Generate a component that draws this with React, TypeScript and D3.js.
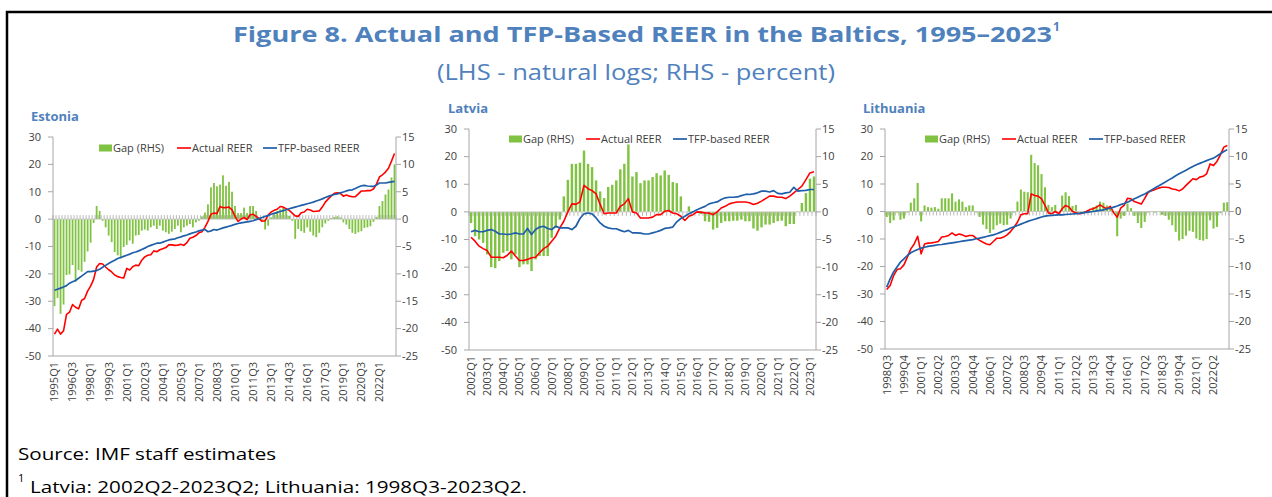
import React from 'react';
import * as d3 from 'd3';

const FONT = "'Open Sans', 'Noto Sans', sans-serif";
const TITLE_BLUE = '#4f81bd';
const BAR_GREEN = '#80c241';
const LINE_RED = '#ff0000';
const LINE_BLUE = '#1f5ea8';
const AXIS_GREY = '#a6a6a6';
const TEXT_DARK = '#404040';

// Estonia, 1995Q1-2023Q2
const estoniaGap = [
  -15.9, -14.4, -17.3, -15.6, -10.2, -10.1, -8.4, -11.4, -9.3, -9.6,
  -7.8, -5.9, -4.3, -0.7, 2.4, 1.5, -0.3, -1.5, -3.0, -4.2,
  -6.0, -6.6, -7.2, -5.1, -4.7, -3.9, -4.5, -3.0, -2.9, -2.1,
  -1.9, -2.1, -1.5, -1.2, -1.8, -1.2, -2.1, -2.4, -2.7, -2.3,
  -1.8, -1.2, -2.4, -1.5, -1.2, -0.9, -1.5, -0.6, -0.3, 0.5,
  1.2, 2.7, 5.8, 6.6, 6.0, 6.3, 8.0, 6.1, 6.8, 5.0,
  2.4, 1.1, 1.1, 2.1, 1.1, 2.4, 2.4, 1.5, 0.3, -0.3,
  -1.9, -1.2, 0.3, 0.9, 1.5, 1.8, 2.1, 1.5, 0.6, -0.3,
  -3.6, -1.8, -2.2, -2.5, -1.5, -2.3, -3.0, -3.3, -2.5, -1.5,
  -0.8, -0.3, 0.2, 0.4, 0.5, 0.3, -0.6, -1.0, -1.8, -2.5,
  -2.7, -2.4, -2.2, -1.6, -1.5, -1.3, -0.5, 0.4, 2.4, 3.3,
  4.5, 5.4, 7.6, 10.0,
];
const estoniaActual = [
  -42, -40.2, -42, -40.8, -34.8, -34, -31.2, -32.2, -32.8, -29.7,
  -29, -26.3, -24.5, -22, -17.5, -16.2, -16.4, -17.5, -18.5, -19.3,
  -20.4, -21, -21.3, -21.5, -18, -18.6, -17.4, -16.8, -17, -15,
  -13.8, -13.2, -13, -11.6, -11.9, -11.2, -10.8, -10.4, -9.4, -9.4,
  -9.6, -9.5, -9.2, -9.6, -8.6, -7, -6.6, -6, -5, -4.6,
  -3, -0.8, 1.8, 2.2, 2, 4.6, 4.2, 4.2, 4.4, 3.4,
  1, -0.8, 0, 0.6, -0.2, 1.6, 1.8, 1, 0.2, -0.8,
  -0.6, 1.5, 2.6, 3.2, 3.6, 4.6, 4.4, 3.8, 3.2, 2.2,
  1.2, 1, 2.3, 2.6, 3.6, 3.3, 2.8, 2.9, 3, 4.4,
  6.2, 7.4, 8.5, 9.4, 9.6, 9.4, 8.4, 8.8, 8.4, 8.2,
  8.2, 9.2, 10.3, 10.3, 10.4, 10.4, 11, 12.8, 15.4, 16.2,
  17.2, 18.6, 21.2, 24,
];
const estoniaTfp = [
  -26, -25.6, -25.2, -24.8, -24.3, -23.4, -22.9, -22.4, -21.6, -20.8,
  -20, -19.2, -19.2, -19, -18.8, -18.3, -17.6, -16.9, -16.2, -15.6,
  -15, -14.4, -14, -13.6, -13.2, -12.8, -12.3, -12, -11.6, -11.1,
  -10.6, -10, -9.6, -9.2, -8.8, -8.8, -8.4, -8, -7.6, -7.4,
  -7.2, -6.8, -6.5, -6.1, -5.8, -5.4, -5, -4.7, -4.3, -4,
  -3.8, -4.6, -4.3, -3.8, -4, -3.6, -3.2, -2.9, -2.6, -2.3,
  -1.9, -1.6, -1.4, -1.2, -1, -0.8, -0.6, -0.2, 0.2, 0.6,
  1, 1.3, 1.8, 2.1, 2.4, 2.8, 3.1, 3.4, 3.8, 4.1,
  4.4, 4.7, 5, 5.3, 5.6, 5.9, 6.2, 6.6, 7, 7.4,
  7.9, 8.3, 8.7, 9, 9.2, 9.6, 9.9, 10.3, 10.6, 10.7,
  11.2, 11.7, 12.2, 12.3, 12.1, 12, 12, 12.4, 13.2, 13.2,
  13.2, 13.4, 13.6, 13.8,
];
const estoniaTicks = [
  '1995Q1', '1996Q3', '1998Q1', '1999Q3', '2001Q1', '2002Q3', '2004Q1', '2005Q3', '2007Q1', '2008Q3',
  '2010Q1', '2011Q3', '2013Q1', '2014Q3', '2016Q1', '2017Q3', '2019Q1', '2020Q3', '2022Q1',
];

// Latvia, 2002Q1-2023Q2
const latviaGap = [
  -2, -4.4, -5, -5.6, -7.7, -10, -10.2, -8.9, -7.4, -7.1,
  -8.6, -7.7, -10, -9.5, -9.5, -10.7, -8.6, -8, -8, -8,
  -4.7, -2.9, -1.4, 2.8, 5.8, 8.7, 8.7, 8.9, 11.1, 8.7,
  8.1, 5.7, 3.7, 2.5, 4.5, 4.9, 5.7, 7.7, 8.7, 12.2,
  6.4, 7.2, 5.2, 5.7, 5.7, 6.3, 7, 6.6, 7.5, 6.7,
  5.4, 5.2, 2.8, 0, 1, 0, 0, -0.4, -1.7, -1.8,
  -3.2, -2.9, -2, -1.7, -1.7, -1.6, -1.6, -1.4, -1.7, -1.7,
  -3, -3.4, -2.8, -2.3, -2.3, -2, -1.7, -1.6, -2.6, -2.2,
  -2.2, 0.1, 1.6, 3.4, 6, 6.4,
];
const latviaActual = [
  -9.2, -10.6, -12.4, -13.3, -14, -16.4, -16.4, -16.4, -16.6, -15.7,
  -14.2, -16, -17.6, -17.6, -17.2, -16.6, -16.4, -14.8, -13.3, -12.4,
  -10.6, -8.8, -5.8, -3.4, 0, 2.9, 2.7, 3.6, 9.6, 8.4,
  7.7, 6.5, 2.7, -0.7, -0.4, -0.4, -0.4, 2, 2.9, 4.8,
  0, -0.4, -2.2, -2.2, -2.2, -1.9, -1, -1, 0.2, 0.5,
  -0.4, -0.7, -1.6, -3.1, -1.6, -1, 0, -0.1, -0.4, -0.4,
  -1, 0, 1.4, 2, 2.9, 3.3, 3.6, 3.6, 3.6, 3.3,
  2.7, 3.1, 3.9, 4.8, 5.7, 5.7, 5.3, 5.3, 4.8, 5.7,
  6.9, 8.1, 9.3, 11.7, 14.1, 14.5,
];
const latviaTfp = [
  -7.2, -6.7, -7.2, -7.2, -6.7, -6.4, -7, -8, -8, -8.2,
  -8, -7.6, -8, -8, -6, -8.2, -6.4, -5.5, -5.2, -6,
  -6.4, -5.2, -5.8, -5.8, -5.8, -6.4, -5.2, -2.4, -0.7, -0.4,
  -0.7, -2.2, -4, -5.2, -5.8, -6.1, -6.1, -6.7, -7.2, -6.7,
  -7.6, -7.6, -7.7, -8, -8, -7.6, -7.2, -6.7, -6, -5.8,
  -5.5, -3.6, -2.4, -1.6, -0.7, 0, 0.8, 1.4, 2, 2.9,
  3.3, 3.6, 4.5, 5.1, 5.3, 5.3, 5.4, 5.9, 6.3, 6.3,
  6.5, 6.9, 7.5, 7.5, 7.2, 7.7, 6.7, 6.5, 6.9, 7.1,
  8.9, 7.5, 7.7, 7.8, 8.1, 8.1,
];
const latviaTicks = [
  '2002Q1', '2003Q1', '2004Q1', '2005Q1', '2006Q1', '2007Q1', '2008Q1', '2009Q1', '2010Q1', '2011Q1', '2012Q1',
  '2013Q1', '2014Q1', '2015Q1', '2016Q1', '2017Q1', '2018Q1', '2019Q1', '2020Q1', '2021Q1', '2022Q1', '2023Q1',
];

// Lithuania, 1998Q3-2023Q2
const lithuaniaGap = [
  -1, -2.1, -1.6, -0.2, -1.5, -1.3, -0.2, 1.6, 2.4, 5.2,
  -1.8, 1.1, 0.8, 0.7, 0.8, 0.5, 2.4, 2.4, 2.4, 3.3,
  1.8, 2.2, 1.8, 0.8, 1.1, 1.1, -0.2, -1, -2.4, -3.2,
  -3.9, -3.3, -2.5, -2.2, -2.5, -2.4, -1.3, -0.2, 1.8, 4,
  3.6, 3.5, 10.3, 8.8, 8.4, 6.8, 4.4, 1.2, 0.8, 1.2,
  0, 2.9, 3.5, 2.8, 1, 1.2, -0.2, -0.2, 0.1, 0.2,
  0.8, 1.1, 1.8, 1.6, 1.1, 0.5, -0.2, -4.5, -1.3, -0.8,
  1.4, 0.6, -0.8, -2.1, -3, -1.9, -0.2, 0.1, -0.2, -0.1,
  -0.6, -0.8, -1.5, -2.5, -3.7, -5.3, -5, -4.4, -3.5, -3.7,
  -4.9, -5.2, -5.3, -5, -1.6, -3.1, -2.8, -0.3, 1.6, 1.7,
];
const lithuaniaActual = [
  -28.4, -26.9, -23.3, -21.1, -20.8, -19.4, -16.6, -13.6, -11.8, -9,
  -15.4, -11.8, -11.5, -11.4, -11.2, -10.9, -9.3, -9.1, -8.7, -7.8,
  -8.7, -8.2, -8.5, -9.1, -8.7, -8.7, -9.7, -10.5, -11.2, -11.8,
  -12.1, -10.9, -9.7, -9.7, -9.3, -8.5, -7.3, -5.7, -3.9, -1.2,
  -0.8, -0.8, 6.4, 5.8, 5.6, 4.6, 2.2, -0.5, -0.8, 0,
  -0.8, 1, 2.2, 1.6, 0, -0.5, -0.8, -0.5, 0, 0.7,
  1, 1.6, 2.4, 1.6, 1, 1.9, -0.5, -2.1, 1.2, 2.2,
  4.8, 4.6, 3.6, 3.2, 2.7, 4.8, 7, 7.5, 8, 8.5,
  8.8, 8.8, 8.7, 8.2, 8, 7.5, 8.2, 9.5, 10.7, 11.9,
  11.6, 12.5, 12.8, 13.7, 17.3, 16.7, 18.2, 20.6, 23.4, 24,
];
const lithuaniaTfp = [
  -27.5, -24.5, -22, -20.2, -18.4, -17.2, -16, -15, -14.4, -13.8,
  -13.3, -13, -12.7, -12.5, -12.3, -12.1, -12, -11.8, -11.6, -11.4,
  -11.2, -11, -10.8, -10.6, -10.4, -10.2, -9.9, -9.7, -9.4, -9.1,
  -8.8, -8.5, -8.1, -7.6, -7.1, -6.6, -6, -5.6, -5.1, -4.6,
  -4.1, -3.6, -3.2, -2.8, -2.4, -2, -1.7, -1.5, -1.4, -1.3,
  -1.25, -1.2, -1.1, -1, -0.9, -0.8, -0.7, -0.5, -0.3, -0.15,
  0, 0.2, 0.4, 0.6, 0.9, 1.2, 1.6, 2, 2.5, 2.9,
  3.4, 4, 4.6, 5.2, 5.8, 6.4, 7.1, 7.8, 8.6, 9.3,
  10, 10.7, 11.5, 12.2, 13, 13.7, 14.4, 15, 15.7, 16.4,
  17, 17.5, 18, 18.5, 19, 19.4, 20.2, 21, 21.8, 22.5,
];
const lithuaniaTicks = [
  '1998Q3', '1999Q4', '2001Q1', '2002Q2', '2003Q3', '2004Q4', '2006Q1', '2007Q2', '2008Q3', '2009Q4',
  '2011Q1', '2012Q2', '2013Q3', '2014Q4', '2016Q1', '2017Q2', '2018Q3', '2019Q4', '2021Q1', '2022Q2',
];

const lhsTicks = [-50, -40, -30, -20, -10, 0, 10, 20, 30];
const rhsTicks = [-25, -20, -15, -10, -5, 0, 5, 10, 15];

// quarter labels for a run of quarterly observations
function quarterRange(startYear: number, startQ: number, n: number): string[] {
  const out: string[] = [];
  for (let i = 0; i < n; i++) {
    const k = startQ - 1 + i;
    out.push(`${startYear + Math.floor(k / 4)}Q${(k % 4) + 1}`);
  }
  return out;
}

type PanelProps = {
  name: string;
  titleX: number;
  titleY: number;
  left: number;
  right: number;
  top: number;
  bottom: number;
  cats: string[];
  gap: number[];
  actual: number[];
  tfp: number[];
  ticks: string[];
  legendY: number;
  legendX: [number, number, number];
  zeroTickUp: boolean;
};

function Panel(p: PanelProps) {
  const x = d3.scaleBand<string>().domain(p.cats).range([p.left, p.right]).paddingInner(0.4).paddingOuter(0.2);
  const bw = x.bandwidth();
  const cx = (c: string) => (x(c) as number) + bw / 2;
  const yL = d3.scaleLinear().domain([-50, 30]).range([p.bottom, p.top]);
  const yR = d3.scaleLinear().domain([-25, 15]).range([p.bottom, p.top]);
  const line = d3.line<number>().x((_, i) => cx(p.cats[i])).y((v) => yL(v));
  const z = yR(0);
  const step = x.step();
  const [gx, rx, tx] = p.legendX;
  const ly = p.legendY;

  return (
    <g>
      <text x={p.titleX} y={p.titleY} fill={TITLE_BLUE} fontWeight="bold" fontSize={13}>{p.name}</text>

      {/* bars on RHS */}
      {p.gap.map((v, i) => (
        <rect key={'b' + i} x={x(p.cats[i])} width={bw} y={Math.min(z, yR(v))} height={Math.abs(yR(v) - z)} fill={BAR_GREEN} />
      ))}

      {/* category axis crossing at zero */}
      <line x1={p.left} x2={p.right} y1={z} y2={z} stroke="#c8c8c8" strokeWidth={0.8} />
      {d3.range(p.cats.length + 1).map((i) => (
        <line key={'zt' + i} x1={p.left + i * step} x2={p.left + i * step} y1={z} y2={p.zeroTickUp ? z - 4 : z + 4} stroke={AXIS_GREY} strokeWidth={0.8} />
      ))}

      <path d={line(p.actual) ?? ''} fill="none" stroke={LINE_RED} strokeWidth={1.6} strokeLinejoin="round" />
      <path d={line(p.tfp) ?? ''} fill="none" stroke={LINE_BLUE} strokeWidth={1.7} strokeLinejoin="round" />

      {/* axes */}
      <line x1={p.left} x2={p.left} y1={p.top} y2={p.bottom} stroke={AXIS_GREY} />
      <line x1={p.right} x2={p.right} y1={p.top} y2={p.bottom} stroke={AXIS_GREY} />
      <line x1={p.left} x2={p.right} y1={p.bottom} y2={p.bottom} stroke={AXIS_GREY} />
      {lhsTicks.map((t) => (
        <g key={'l' + t}>
          <line x1={p.left - 5} x2={p.left} y1={yL(t)} y2={yL(t)} stroke={AXIS_GREY} />
          <text x={p.left - 12} y={yL(t)} dy="0.35em" textAnchor="end" fontSize={11} fill={TEXT_DARK}>{t}</text>
        </g>
      ))}
      {rhsTicks.map((t) => (
        <g key={'r' + t}>
          <line x1={p.right} x2={p.right + 5} y1={yR(t)} y2={yR(t)} stroke={AXIS_GREY} />
          <text x={p.right + 6} y={yR(t)} dy="0.35em" textAnchor="start" fontSize={11} fill={TEXT_DARK}>{t}</text>
        </g>
      ))}
      {p.ticks.map((t) => (
        <text key={'x' + t} transform={`translate(${cx(t)},${p.bottom + 6}) rotate(-90)`} dy="0.35em" textAnchor="end" fontSize={11} fill={TEXT_DARK}>{t}</text>
      ))}

      {/* legend */}
      <rect x={gx} y={ly - 3.5} width={13} height={7} fill={BAR_GREEN} />
      <text x={gx + 14} y={ly} dy="0.35em" fontSize={11} fill={TEXT_DARK}>Gap (RHS)</text>
      <line x1={rx} x2={rx + 14} y1={ly} y2={ly} stroke={LINE_RED} strokeWidth={1.6} />
      <text x={rx + 15} y={ly} dy="0.35em" fontSize={11} fill={TEXT_DARK}>Actual REER</text>
      <line x1={tx} x2={tx + 14} y1={ly} y2={ly} stroke={LINE_BLUE} strokeWidth={1.7} />
      <text x={tx + 15} y={ly} dy="0.35em" fontSize={11} fill={TEXT_DARK}>TFP-based REER</text>
    </g>
  );
}

export default function App() {
  const estoniaCats = quarterRange(1995, 1, estoniaGap.length);
  const latviaCats = quarterRange(2002, 1, latviaGap.length);
  const lithuaniaCats = quarterRange(1998, 3, lithuaniaGap.length);

  return (
    <svg width={1272} height={497} style={{ position: 'absolute', left: 0, top: 0 }} fontFamily={FONT}>
      <rect width={1272} height={497} fill="#fff" />
      <path d="M7,497 V12 H1272" fill="none" stroke="#000" strokeWidth={2.5} />

      <text x={233} y={42} fill={TITLE_BLUE} fontWeight="bold" fontSize={22} textLength={819} lengthAdjust="spacingAndGlyphs">
        Figure 8. Actual and TFP-Based REER in the Baltics, 1995–2023
      </text>
      <text x={1053} y={31} fill={TITLE_BLUE} fontWeight="bold" fontSize={12}>1</text>
      <text x={437} y={80} fill={TITLE_BLUE} fontSize={21} textLength={398} lengthAdjust="spacingAndGlyphs">
        (LHS - natural logs; RHS - percent)
      </text>

      <Panel name="Estonia" titleX={31} titleY={121} left={53} right={396} top={137} bottom={356}
        cats={estoniaCats} gap={estoniaGap} actual={estoniaActual} tfp={estoniaTfp} ticks={estoniaTicks}
        legendY={148} legendX={[99, 177, 263]} zeroTickUp={true} />
      <Panel name="Latvia" titleX={448} titleY={113} left={469} right={816} top={129} bottom={350}
        cats={latviaCats} gap={latviaGap} actual={latviaActual} tfp={latviaTfp} ticks={latviaTicks}
        legendY={139} legendX={[509, 586, 673]} zeroTickUp={false} />
      <Panel name="Lithuania" titleX={863} titleY={113} left={885} right={1229} top={129} bottom={349}
        cats={lithuaniaCats} gap={lithuaniaGap} actual={lithuaniaActual} tfp={lithuaniaTfp} ticks={lithuaniaTicks}
        legendY={139} legendX={[925, 1002, 1089]} zeroTickUp={false} />

      <text x={18} y={460} fontSize={17} fill="#000" textLength={258} lengthAdjust="spacingAndGlyphs">Source: IMF staff estimates</text>
      <text x={18} y={482} fontSize={11} fill="#000">1</text>
      <text x={30} y={493} fontSize={17} fill="#000" textLength={497} lengthAdjust="spacingAndGlyphs">Latvia: 2002Q2-2023Q2; Lithuania: 1998Q3-2023Q2.</text>
    </svg>
  );
}
